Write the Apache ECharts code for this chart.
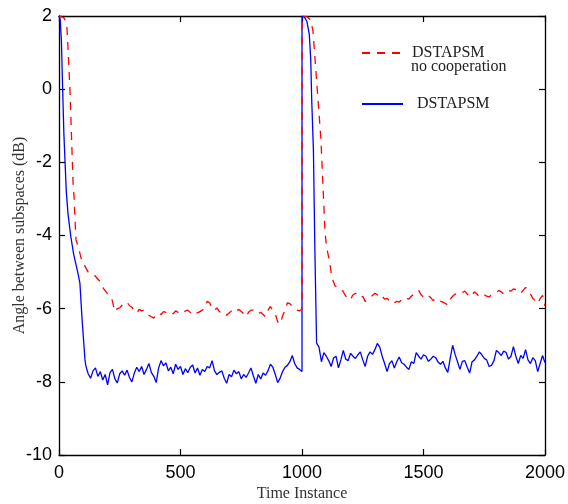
<!DOCTYPE html>
<html>
<head>
<meta charset="utf-8">
<script src="https://cdn.jsdelivr.net/npm/echarts@6/dist/echarts.min.js"></script>
<style>
html,body{margin:0;padding:0;background:#fff;}
#chart{width:568px;height:504px;}
</style>
</head>
<body>
<div id="chart"></div>
<script>
// ---- data ----
var xTicks = [0, 500, 1000, 1500, 2000];
var yTicks = [-10, -8, -6, -4, -2, 0, 2];

var blueName = 'DSTAPSM';
var redName = 'DSTAPSM no cooperation';

var blueT = [0,5,10,15,20,25,30,37,48,60,77,86,95,107,
110,120,130,140,150,160,170,180,190,200,210,220,230,240,250,260,270,280,290,300,
310,320,330,340,350,360,370,380,390,400,410,420,430,440,450,460,470,480,490,500,
510,520,530,540,550,560,570,580,590,600,610,620,630,640,650,660,670,680,690,700,
710,720,730,740,750,760,770,780,790,800,810,820,830,840,850,860,870,880,890,900,
910,920,930,940,950,960,970,980,990,1000,
1000,1010,1020,1030,1036,1040,1047,1053,1060,
1070,1080,1090,1100,1110,1120,1130,1140,1150,1160,1170,1180,1190,1200,
1210,1220,1230,1240,1250,1260,1270,1280,1290,1300,1310,1320,1330,1340,1350,1360,1370,1380,1390,1400,
1410,1420,1430,1440,1450,1460,1470,1480,1490,1500,1510,1520,1530,1540,1550,1560,1570,1580,1590,1600,
1610,1620,1630,1640,1650,1660,1670,1680,1690,1700,1710,1720,1730,1740,1750,1760,1770,1780,1790,1800,
1810,1820,1830,1840,1850,1860,1870,1880,1890,1900,1910,1920,1930,1940,1950,1960,1970,1980,1990,2000];
var blueV = [2,1.9,1.3,0,-1.2,-2.0,-2.8,-3.4,-4.0,-4.5,-5.0,-5.3,-6.3,-7.4,
-7.55,-7.78,-7.90,-7.70,-7.62,-7.85,-7.72,-7.95,-7.80,-8.08,-7.75,-7.66,-7.92,-8.03,-7.78,-7.70,-7.82,-7.68,-7.88,-8.00,
-7.76,-7.60,-7.72,-7.58,-7.80,-7.66,-7.50,-7.74,-7.85,-8.02,-7.62,-7.42,-7.56,-7.48,-7.70,-7.60,-7.78,-7.52,-7.66,-7.58,
-7.80,-7.64,-7.75,-7.60,-7.54,-7.76,-7.62,-7.82,-7.66,-7.72,-7.58,-7.62,-7.42,-7.70,-7.80,-7.74,-7.70,-7.90,-8.04,-7.80,
-7.86,-7.68,-7.78,-7.72,-7.92,-7.80,-7.88,-7.76,-7.62,-7.84,-8.04,-7.80,-7.92,-7.76,-7.82,-7.70,-7.52,-7.60,-7.80,-8.02,
-7.90,-7.72,-7.60,-7.55,-7.45,-7.28,-7.50,-7.62,-7.66,-7.72,
2.0,1.97,1.85,1.5,0.8,-0.3,-1.66,-4.4,-6.94,
-7.05,-7.45,-7.20,-7.30,-7.42,-7.58,-7.35,-7.30,-7.62,-7.40,-7.14,-7.38,-7.42,-7.22,
-7.30,-7.36,-7.26,-7.18,-7.40,-7.58,-7.30,-7.18,-7.25,-7.12,-6.95,-7.05,-7.30,-7.50,-7.72,-7.50,-7.42,-7.62,-7.45,-7.32,
-7.48,-7.52,-7.60,-7.66,-7.45,-7.50,-7.20,-7.30,-7.38,-7.26,-7.30,-7.44,-7.38,-7.30,-7.34,-7.46,-7.52,-7.44,-7.62,-7.74,
-7.35,-7.00,-7.25,-7.45,-7.66,-7.44,-7.42,-7.60,-7.76,-7.45,-7.40,-7.30,-7.18,-7.26,-7.36,-7.40,-7.58,-7.55,-7.42,-7.14,
-7.20,-7.28,-7.16,-7.20,-7.38,-7.30,-7.04,-7.30,-7.50,-7.28,-7.36,-7.12,-7.40,-7.50,-7.34,-7.42,-7.72,-7.50,-7.28,-7.48];

var redT = [0,10,20,28,32,38,45,52,58,62,66,70,79,93,106,120,134,148,169,182,200,217,230,
240,250,260,270,280,290,300,310,320,330,340,350,360,370,380,390,400,410,420,430,440,450,460,470,480,490,500,
510,520,530,540,550,560,570,580,590,600,610,620,630,640,650,660,670,680,690,700,710,720,730,740,750,760,770,780,790,800,
810,820,830,840,850,860,870,880,890,900,910,920,930,940,950,960,970,980,990,1000,
1000,1020,1035,1045,1055,1066,1078,1088,1095,1101,1115,1122,1136,1150,1163,1175,
1190,1200,1210,1220,1230,1240,1250,1260,1270,1280,1290,1300,1310,1320,1330,1340,1350,1360,1370,1380,1390,1400,
1410,1420,1430,1440,1450,1460,1470,1480,1490,1500,1510,1520,1530,1540,1550,1560,1570,1580,1590,1600,
1610,1620,1630,1640,1650,1660,1670,1680,1690,1700,1710,1720,1730,1740,1750,1760,1770,1780,1790,1800,
1810,1820,1830,1840,1850,1860,1870,1880,1890,1900,1910,1920,1930,1940,1950,1960,1970,1980,1990,2000];
var redV = [2,1.98,1.95,1.85,1.75,1.0,0.0,-1.4,-2.57,-2.95,-3.6,-4.12,-4.3,-4.67,-4.83,-5.0,-5.08,-5.1,-5.26,-5.44,-5.6,-5.72,-6.08,
-6.00,-5.98,-5.90,-5.84,-5.82,-5.92,-5.96,-6.06,-6.12,-6.02,-6.06,-6.04,-6.14,-6.18,-6.22,-6.26,-6.16,-6.12,-6.16,-6.08,-6.10,-6.14,-6.10,-6.14,-6.06,-6.10,-6.08,
-6.12,-6.06,-6.04,-6.10,-6.14,-6.08,-6.12,-6.08,-6.04,-5.98,-5.80,-5.84,-6.00,-6.04,-5.98,-6.08,-6.12,-6.10,-6.18,-6.12,-6.06,-6.12,-6.06,-6.02,-6.08,-6.14,-6.22,-6.10,-6.04,-6.04,
-6.08,-6.14,-6.10,-6.16,-6.22,-6.04,-5.94,-6.06,-6.14,-6.36,-6.42,-6.20,-6.04,-5.84,-5.86,-5.94,-5.98,-6.04,-6.06,-6.00,
2.0,1.98,1.9,1.6,0.7,-0.3,-1.39,-2.9,-3.93,-4.31,-4.76,-5.13,-5.38,-5.42,-5.46,-5.6,
-5.76,-5.74,-5.62,-5.58,-5.64,-5.70,-5.66,-5.80,-5.76,-5.70,-5.64,-5.58,-5.62,-5.70,-5.66,-5.74,-5.72,-5.78,-5.76,-5.84,-5.80,-5.82,
-5.76,-5.78,-5.72,-5.74,-5.66,-5.60,-5.56,-5.50,-5.62,-5.68,-5.62,-5.64,-5.70,-5.78,-5.72,-5.74,-5.80,-5.82,-5.86,-5.90,
-5.74,-5.66,-5.60,-5.58,-5.54,-5.56,-5.52,-5.60,-5.68,-5.62,-5.54,-5.60,-5.68,-5.64,-5.62,-5.66,-5.68,-5.62,-5.58,-5.56,
-5.50,-5.54,-5.60,-5.56,-5.50,-5.52,-5.46,-5.48,-5.56,-5.58,-5.50,-5.42,-5.48,-5.60,-5.72,-5.78,-5.86,-5.72,-5.64,-5.92];

function zip(t, v) { var out = []; for (var i = 0; i < t.length; i++) out.push([t[i], v[i]]); return out; }

var chart = echarts.init(document.getElementById('chart'), null, {renderer: 'canvas'});
var serif = 'Liberation Serif, Times New Roman, serif';
var tickFont = {fontFamily: 'Liberation Sans, Arial, sans-serif', fontSize: 18, color: '#000'};
var axisLine = {show: true, onZero: false, lineStyle: {color: '#000', width: 1.3}};
var axisTick = {show: true, inside: true, length: 6, lineStyle: {color: '#000', width: 1.2}};
function plain(v) { return String(v); }

var option = {
  animation: false,
  backgroundColor: '#fff',
  grid: {left: 59, right: 23, top: 16, bottom: 49, containLabel: false, outerBoundsMode: 'none'},
  xAxis: [{
    type: 'value', min: xTicks[0], max: xTicks[xTicks.length - 1], interval: xTicks[1] - xTicks[0],
    position: 'bottom',
    name: 'Time Instance', nameLocation: 'middle', nameGap: 31, nameMoveOverlap: false,
    nameTextStyle: {fontFamily: serif, fontSize: 16, color: '#333'},
    axisLine: axisLine, axisTick: axisTick,
    axisLabel: Object.assign({margin: 9, showMinLabel: true, showMaxLabel: true, formatter: plain}, tickFont),
    splitLine: {show: false}
  }, {
    type: 'value', min: xTicks[0], max: xTicks[xTicks.length - 1], interval: xTicks[1] - xTicks[0],
    position: 'top',
    axisLine: axisLine, axisTick: axisTick, axisLabel: {show: false}, splitLine: {show: false}
  }],
  yAxis: [{
    type: 'value', min: yTicks[0], max: yTicks[yTicks.length - 1], interval: yTicks[1] - yTicks[0],
    position: 'left',
    name: 'Angle between subspaces (dB)', nameLocation: 'middle', nameGap: 31, nameMoveOverlap: false,
    nameTextStyle: {fontFamily: serif, fontSize: 16, color: '#333'},
    axisLine: axisLine, axisTick: axisTick,
    axisLabel: Object.assign({margin: 7, formatter: plain}, tickFont),
    splitLine: {show: false}
  }, {
    type: 'value', min: yTicks[0], max: yTicks[yTicks.length - 1], interval: yTicks[1] - yTicks[0],
    position: 'right',
    axisLine: axisLine, axisTick: axisTick, axisLabel: {show: false}, splitLine: {show: false}
  }],
  legend: {
    orient: 'vertical', left: 361, top: 45, padding: 0,
    itemWidth: 41, itemHeight: 14, itemGap: 35,
    data: [redName, blueName],
    itemStyle: {opacity: 0},
    formatter: function (name) { return name === redName ? '{r|DSTAPSM}' : '{b|DSTAPSM}'; },
    textStyle: {
      fontFamily: serif, fontSize: 16, color: '#222',
      rich: {
        r: {fontFamily: serif, fontSize: 16, color: '#222', padding: [0, 0, 0, 4]},
        b: {fontFamily: serif, fontSize: 16, color: '#222', padding: [0, 0, 0, 9]}
      }
    }
  },
  graphic: [{
    type: 'text', left: 411, top: 59,
    style: {text: 'no cooperation', font: '16px "Liberation Serif", "Times New Roman", serif', fill: '#222'}
  }],
  series: [{
    name: blueName, type: 'line', symbol: 'none', showSymbol: false,
    data: zip(blueT, blueV),
    lineStyle: {color: '#0000ff', width: 1.3},
    itemStyle: {color: '#0000ff'},
    z: 2
  }, {
    name: redName, type: 'line', symbol: 'none', showSymbol: false,
    data: zip(redT, redV),
    lineStyle: {color: '#ff0000', width: 1.3, type: [8, 7]},
    itemStyle: {color: '#ff0000'},
    z: 3
  }]
};
chart.setOption(option);
</script>
</body>
</html>
